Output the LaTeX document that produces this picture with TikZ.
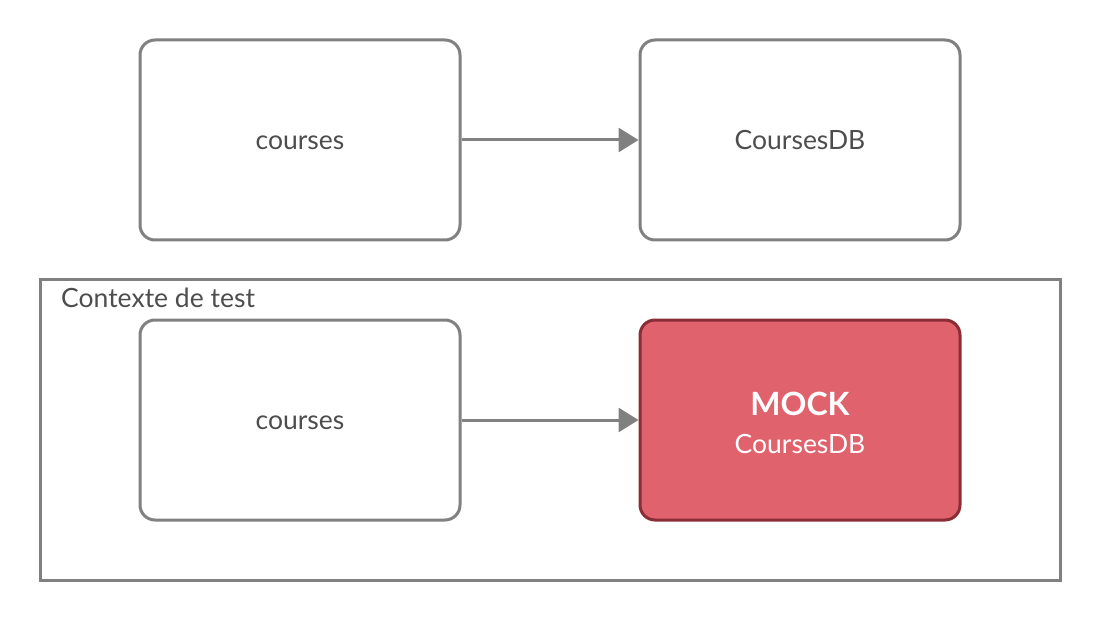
\documentclass[tikz,border=0pt]{standalone}
\usepackage{fontspec}
\setmainfont{Lato}
\usetikzlibrary{arrows.meta}
\definecolor{edge}{HTML}{808080}
\definecolor{txt}{HTML}{4D4D4D}
\definecolor{mockfill}{HTML}{E0626C}
\definecolor{mockedge}{HTML}{8B2D36}
\tikzset{
  box/.style={draw=edge, line width=3pt, rounded corners=15pt, minimum width=320pt, minimum height=200pt, inner sep=0pt, font=\fontsize{26.5}{38}\selectfont, text=txt, fill=white, text height=22pt, text depth=3pt},
  mockbox/.style={box, draw=mockedge, fill=mockfill},
  mocktext/.style={anchor=base, inner sep=0pt, text=white},
  link/.style={draw=edge, line width=3pt, -{Triangle[length=20pt,width=24pt]}},
  container/.style={draw=edge, line width=3pt, minimum width=1020pt, minimum height=300pt, inner sep=0pt}
}
\begin{document}
\begin{tikzpicture}[x=1pt,y=-1pt]
\useasboundingbox (0,0) rectangle (1100,620);
\node[container] (ctx) at (550,430) {};
\node[anchor=base west, font=\fontsize{26.5}{30}\selectfont, text=txt, inner sep=0pt] (ctxlabel) at (61,307) {Contexte de test};
\node[box] (c1) at (300,140) {courses};
\node[box] (db1) at (800,140) {CoursesDB};
\node[box] (c2) at (300,420) {courses};
\node[mockbox] (db2) at (800,420) {};
\node[mocktext, font=\fontsize{32}{38}\selectfont\bfseries] (mockt) at (800,415) {MOCK};
\node[mocktext, font=\fontsize{26.5}{30}\selectfont] (mockdb) at (800,453) {CoursesDB};
\draw[link] (c1.east) -- (db1.west);
\draw[link] (c2.east) -- (db2.west);
\end{tikzpicture}
\end{document}
